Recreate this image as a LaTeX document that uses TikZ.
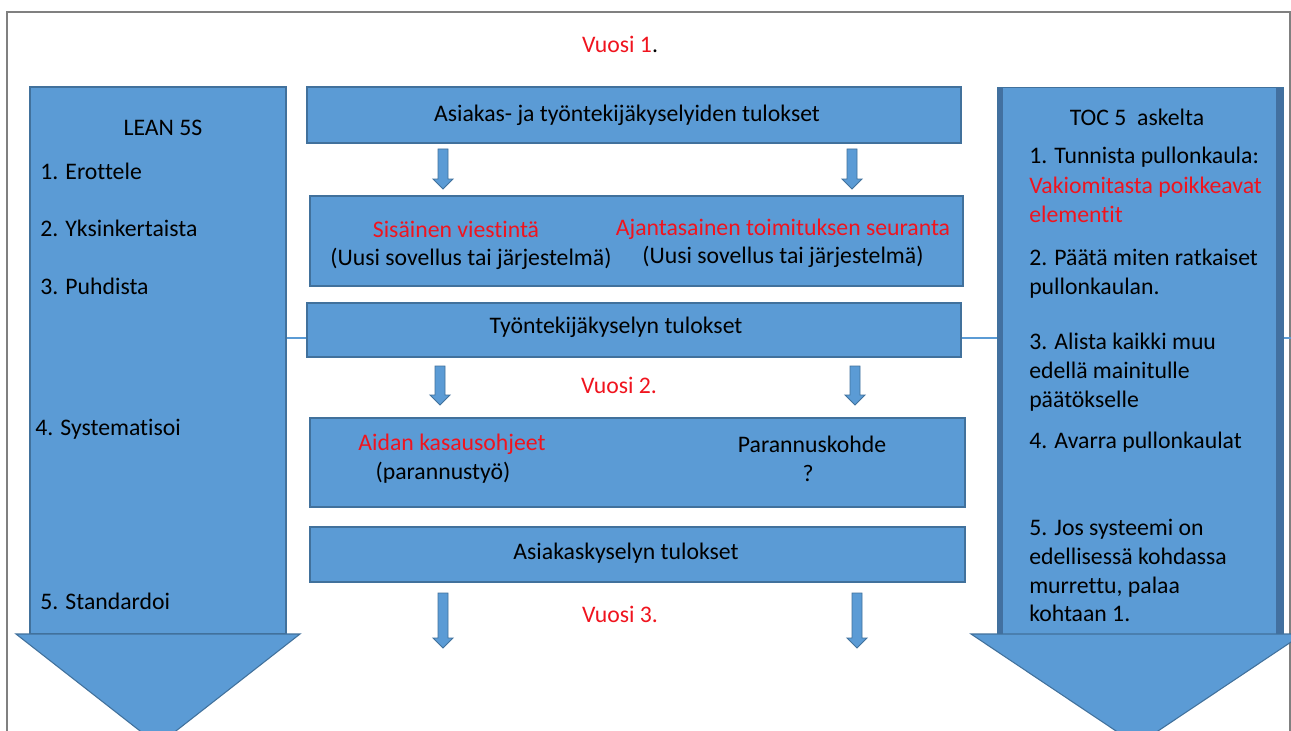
\documentclass[tikz,border=0pt]{standalone}
\usepackage{fontspec}
\setmainfont{Carlito}[Ligatures={NoCommon}]
\definecolor{fillblue}{RGB}{91,155,213}
\definecolor{edgeblue}{RGB}{65,113,156}
\definecolor{bandblue}{RGB}{66,112,160}
\definecolor{redtxt}{RGB}{240,20,30}
\definecolor{framegray}{RGB}{128,128,128}
\tikzset{
  box/.style={draw=edgeblue, line width=1.1pt, fill=fillblue, inner sep=0pt},
  bigshape/.style={draw=edgeblue, line width=0.8pt, fill=fillblue},
  blockarrow/.style={draw=edgeblue, line width=0.7pt, fill=fillblue},
  hline/.style={draw=fillblue, line width=0.9pt},
  framestyle/.style={draw=framegray, line width=1.3pt},
  txt/.style={inner sep=0pt, anchor=base},
  ltxt/.style={inner sep=0pt, anchor=base west},
  red/.style={text=redtxt}
}
\newcommand{\smallblockarrow}[3]{%
  \draw[blockarrow] (#1-5,#2) -- (#1+5,#2) -- (#1+5,#3-10) -- (#1+10,#3-10) -- (#1,#3) -- (#1-10,#3-10) -- (#1-5,#3-10) -- cycle;}
\begin{document}
\begin{tikzpicture}[x=0.75pt,y=-0.75pt,font=\fontsize{17.8}{21.5}\selectfont]
\useasboundingbox (0,0) rectangle (1291,731);
\clip (0,0) rectangle (1291,731);
\fill[white] (0,0) rectangle (1291,731);
% frame
\draw[framestyle] (7,760) -- (7,12) -- (1290,12) -- (1290,760);

% connector line behind
\coordinate (leanR) at (286,338);
\coordinate (frameR) at (1291,338);
\draw[hline] (leanR) -- (frameR);

% left big arrow (LEAN 5S)
\draw[bigshape] (30,87) rectangle (286,634);
\draw[bigshape] (16,634) -- (300,634) -- (158,745) -- cycle;

% right big arrow (TOC)
\fill[fillblue] (997,87) rectangle (1283,634);
\fill[bandblue] (997,87) rectangle (1003,634);
\fill[bandblue] (1276,87) rectangle (1283,634);
\draw[draw=edgeblue, line width=0.6pt] (997,87) rectangle (1283,634);
\draw[bigshape] (971,634) -- (1303,634) -- (1137,745) -- cycle;

% central boxes
\node[box, minimum width=490.5pt, minimum height=42pt] (b1) at (634,115) {};
\node[box, minimum width=489.75pt, minimum height=67.5pt] (b2) at (636.5,241) {};
\node[box, minimum width=490.5pt, minimum height=40.5pt] (b3) at (634,330) {};
\node[box, minimum width=491.25pt, minimum height=66.75pt] (b4) at (637.5,462.5) {};
\node[box, minimum width=491.25pt, minimum height=41.25pt] (b5) at (637.5,554.5) {};

% small block arrows
\smallblockarrow{443}{149}{189}
\smallblockarrow{852}{149}{189}
\smallblockarrow{440}{366}{405}
\smallblockarrow{855}{366}{405}
\smallblockarrow{443}{593}{648}
\smallblockarrow{857}{593}{648}

% centre texts
\node[txt] (v1) at (620,53) {\textcolor{redtxt}{Vuosi 1}.};
\node[txt] (t1) at (627,122) {Asiakas- ja työntekijäkyselyiden tulokset};
\node[txt, red] (t2a) at (456,237) {Sisäinen viestintä};
\node[txt] (t2b) at (471,265) {(Uusi sovellus tai järjestelmä)};
\node[txt, red] (t2c) at (783,235) {Ajantasainen toimituksen seuranta};
\node[txt] (t2d) at (783,263) {(Uusi sovellus tai järjestelmä)};
\node[txt] (t3) at (616,333) {Työntekijäkyselyn tulokset};
\node[txt, red] (v2) at (619,393) {Vuosi 2.};
\node[txt, red] (t4a) at (452,450) {Aidan kasausohjeet};
\node[txt] (t4b) at (443,479) {(parannustyö)};
\node[txt] (t4c) at (812,452) {Parannuskohde};
\node[txt] (t4d) at (808,481) {?};
\node[txt] (t5) at (626,559) {Asiakaskyselyn tulokset};
\node[txt, red] (v3) at (620,622) {Vuosi 3.};

% LEAN texts
\node[txt] (lean) at (163,136) {LEAN 5S};
\node[ltxt] (l1) at (40,180) {1. Erottele};
\node[ltxt] (l2) at (40,236) {2. Yksinkertaista};
\node[ltxt] (l3) at (40,294) {3. Puhdista};
\node[ltxt] (l4) at (35,435) {4. Systematisoi};
\node[ltxt] (l5) at (40,609) {5. Standardoi};

% TOC texts
\node[txt] (toc) at (1137,126) {TOC 5\ \ askelta};
\node[ltxt] (r1a) at (1029,164) {1. Tunnista pullonkaula:};
\node[ltxt, red] (r1b) at (1029,193) {Vakiomitasta poikkeavat};
\node[ltxt, red] (r1c) at (1029,222) {elementit};
\node[ltxt] (r2a) at (1029,265) {2. Päätä miten ratkaiset};
\node[ltxt] (r2b) at (1029,294) {pullonkaulan.};
\node[ltxt] (r3a) at (1029,349) {3. Alista kaikki muu};
\node[ltxt] (r3b) at (1029,378) {edellä mainitulle};
\node[ltxt] (r3c) at (1029,407) {päätökselle};
\node[ltxt] (r4) at (1029,448) {4. Avarra pullonkaulat};
\node[ltxt] (r5a) at (1029,535) {5. Jos systeemi on};
\node[ltxt] (r5b) at (1029,564) {edellisessä kohdassa};
\node[ltxt] (r5c) at (1029,593) {murrettu, palaa};
\node[ltxt] (r5d) at (1029,621) {kohtaan 1.};
\end{tikzpicture}
\end{document}
